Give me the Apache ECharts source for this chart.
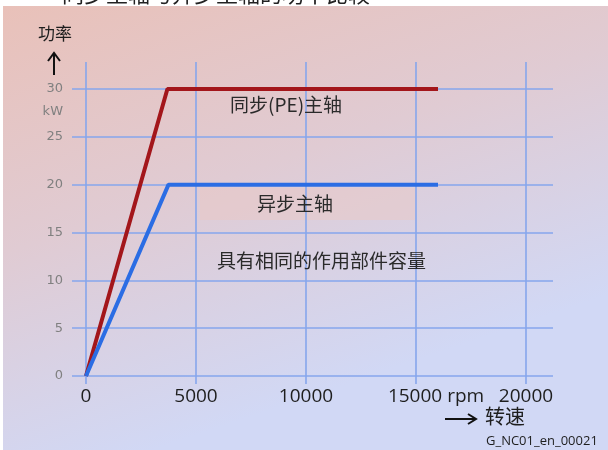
<!DOCTYPE html>
<html>
<head>
<meta charset="utf-8">
<script src="https://cdn.jsdelivr.net/npm/echarts@6/dist/echarts.min.js"></script>
<style>html,body{margin:0;padding:0;background:#fff}#c{width:608px;height:450px}</style>
</head>
<body>
<div id="c"></div>
<script>
// ---- data ----
const xTicks = [0, 5000, 10000, 15000, 20000];
const yTicks = [0, 5, 10, 15, 20, 25, 30];
const xTickLabels = ['0', '5000', '10000', '15000 rpm', '20000'];
const yUnitPos = 27.6;
const yUnitLabel = 'kW';
const syncSpeed = [0, 3700, 16000];
const syncPower = [0, 30, 30];
const asyncSpeed = [0, 3750, 16000];
const asyncPower = [0, 20, 20];
const syncName = '同步(PE)主轴';
const asyncName = '异步主轴';
const noteText = '具有相同的作用部件容量';
const yTitle = '功率';
const xTitle = '转速';
const codeText = 'G_NC01_en_00021';
const topTitle = '同步主轴与异步主轴的功率比较';

const chart = echarts.init(document.getElementById('c'));
const pairs = (xs, ys) => xs.map((x, i) => [x, ys[i]]);
const FONT = '"Open Sans", "Noto Sans CJK SC", sans-serif';
const CJK = '"Noto Sans CJK SC", sans-serif';

chart.setOption({
  animation: false,
  backgroundColor: '#ffffff',
  grid: { left: 72, right: 55, top: 62, bottom: 66 },
  xAxis: {
    type: 'value', min: -636, max: 21227,
    axisLine: { show: false, onZero: false }, axisTick: { show: false }, splitLine: { show: false },
    axisLabel: {
      customValues: xTicks, margin: 3, color: '#1e1e1e', fontSize: 19, fontFamily: FONT,
      formatter: v => {
        const t = xTickLabels[xTicks.indexOf(v)];
        return t.indexOf(' ') > 0 ? '{p| }{n|' + t + '}' : t;
      },
      rich: { p: { width: 40 }, n: { fontSize: 19, color: '#1e1e1e', fontFamily: FONT } }
    }
  },
  yAxis: {
    type: 'value', min: -0.836, max: 32.82,
    axisLine: { show: false, onZero: false }, axisTick: { show: false }, splitLine: { show: false },
    axisLabel: {
      customValues: yTicks.concat([yUnitPos]), margin: 9, color: '#808080', fontSize: 13,
      fontFamily: '"DejaVu Sans", sans-serif',
      formatter: v => v === yUnitPos ? yUnitLabel : String(v)
    }
  },
  series: [
    {
      type: 'line', data: [], silent: true,
      markLine: {
        silent: true, symbol: 'none', label: { show: false },
        lineStyle: { color: '#86a6ec', width: 1.6, type: 'solid' },
        data: xTicks.map(v => ({ xAxis: v })).concat(yTicks.map(v => ({ yAxis: v })))
      }
    },
    {
      name: syncName, type: 'line', data: pairs(syncSpeed, syncPower),
      showSymbol: false, lineStyle: { color: '#a3161b', width: 4 }, itemStyle: { color: '#a3161b' }, z: 5
    },
    {
      name: asyncName, type: 'line', data: pairs(asyncSpeed, asyncPower),
      showSymbol: false, lineStyle: { color: '#2b6de4', width: 4 }, itemStyle: { color: '#2b6de4' }, z: 5
    }
  ],
  graphic: [
    { type: 'rect', z: -10, silent: true, shape: { x: 3, y: 6, width: 605, height: 444 },
      style: { fill: new echarts.graphic.LinearGradient(0, 0, 0.25, 1, [
        { offset: 0, color: '#e9c1b9' }, { offset: 0.5, color: '#e0cbd3' }, { offset: 1, color: '#d1d8f5' }]) } },
    { type: 'rect', z: -5, silent: true, shape: { x: 200, y: 188, width: 215, height: 32 },
      style: { fill: 'rgba(236,200,196,0.45)' } },
    { type: 'text', left: 62, top: -17, z: 10, style: { text: topTitle, font: '22px ' + CJK, fill: '#222' } },
    { type: 'text', left: 38, top: 25, z: 10, style: { text: yTitle, font: '17px ' + CJK, fill: '#1e1e1e' } },
    { type: 'line', z: 10, shape: { x1: 54, y1: 54, x2: 54, y2: 75 }, style: { stroke: '#111', lineWidth: 2 } },
    { type: 'polyline', z: 10, shape: { points: [[48, 61], [54, 53], [60, 61]] }, style: { stroke: '#111', lineWidth: 2, fill: null } },
    { type: 'text', left: 230, top: 95, z: 10, style: { text: syncName, font: '19px ' + CJK, fill: '#2a2a2a' } },
    { type: 'text', left: 257, top: 194, z: 10, style: { text: asyncName, font: '19px ' + CJK, fill: '#2a2a2a' } },
    { type: 'text', left: 217, top: 251, z: 10, style: { text: noteText, font: '19px ' + CJK, fill: '#2a2a2a' } },
    { type: 'line', z: 10, shape: { x1: 445, y1: 419, x2: 475, y2: 419 }, style: { stroke: '#111', lineWidth: 2 } },
    { type: 'polyline', z: 10, shape: { points: [[468, 414], [476, 419], [468, 424]] }, style: { stroke: '#111', lineWidth: 2, fill: null } },
    { type: 'text', left: 485, top: 406, z: 10, style: { text: xTitle, font: '20px ' + CJK, fill: '#1e1e1e' } },
    { type: 'text', left: 486, top: 435, z: 10, style: { text: codeText, font: '13px "Open Sans", sans-serif', fill: '#1e1e1e' } }
  ]
});
</script>
</body>
</html>
